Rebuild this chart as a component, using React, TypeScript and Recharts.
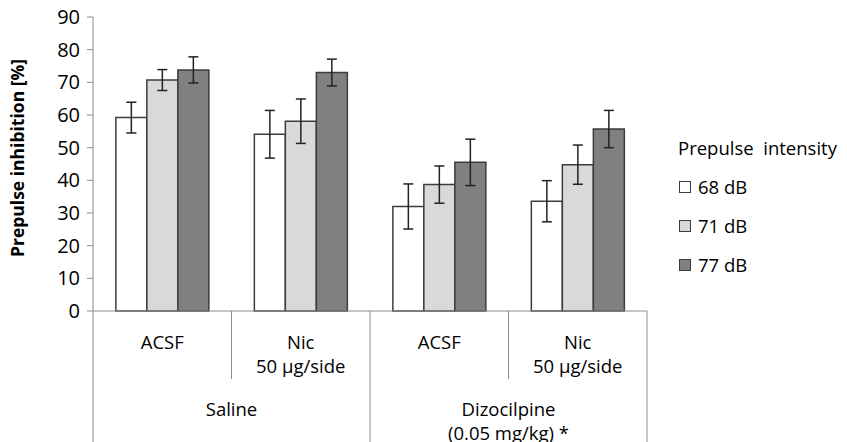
import React from "react";
import { BarChart, Bar, XAxis, YAxis, ErrorBar, Legend, Label } from "recharts";

// categories (bottom axis, two levels)
const treatments = ["ACSF", "Nic\n50 µg/side", "ACSF", "Nic\n50 µg/side"];
const groups = ["Saline", "Saline", "Dizocilpine\n(0.05 mg/kg) *", "Dizocilpine\n(0.05 mg/kg) *"];

// prepulse inhibition means [%]
const pp68 = [59.2, 54.1, 32.0, 33.6];
const pp71 = [70.7, 58.1, 38.7, 44.8];
const pp77 = [73.8, 73.0, 45.5, 55.7];

// error bars (+/-)
const err68 = [4.7, 7.3, 6.9, 6.3];
const err71 = [3.2, 6.8, 5.7, 6.0];
const err77 = [4.0, 4.1, 7.1, 5.7];

const yTicks = [0, 10, 20, 30, 40, 50, 60, 70, 80, 90];

const rows = treatments.map((t, i) => ({
  id: `${groups[i]} ${t} ${i}`,
  treatment: t,
  group: groups[i],
  v68: pp68[i],
  v71: pp71[i],
  v77: pp77[i],
  e68: err68[i],
  e71: err71[i],
  e77: err77[i],
}));

const W = 847;
const H = 442;
const MARGIN = { top: 17, right: 200, bottom: 0, left: 0 };
const Y_AXIS_W = 93;
const X_AXIS_H = 131;
const BAND = (W - MARGIN.left - MARGIN.right - Y_AXIS_W) / rows.length;

const FONT = "'Open Sans', sans-serif";
const AXIS_GRAY = "#8c8c8c";
const BAR_STROKE = "#3c3c3c";

function CategoryTick(props: any) {
  const { x, y, index } = props;
  const row = rows[index];
  if (!row) return null;
  const half = BAND / 2;
  const startsGroup = index === 0 || rows[index - 1].group !== row.group;
  const last = index === rows.length - 1;
  const tLines = row.treatment.split("\n");
  const gLines = row.group.split("\n");
  // group label sits in the middle of its categories
  let span = 1;
  while (index + span < rows.length && rows[index + span].group === row.group) span++;
  const gx = x - half + (span * BAND) / 2;

  return (
    <g>
      <line
        x1={x - half}
        x2={x - half}
        y1={y}
        y2={startsGroup ? y + X_AXIS_H : y + 68}
        stroke={AXIS_GRAY}
        strokeWidth={1}
      />
      {last && (
        <line x1={x + half} x2={x + half} y1={y} y2={y + X_AXIS_H} stroke={AXIS_GRAY} strokeWidth={1} />
      )}
      {tLines.map((l: string, k: number) => (
        <text
          key={k}
          x={x}
          y={y + 30 + k * 24.5}
          textAnchor="middle"
          dominantBaseline="central"
          fontSize={18.5}
          fontFamily={FONT}
          fill="#000"
        >
          {l}
        </text>
      ))}
      {startsGroup &&
        gLines.map((l: string, k: number) => (
          <text
            key={"g" + k}
            x={gx}
            y={y + 97 + k * 24.5}
            textAnchor="middle"
            dominantBaseline="central"
            fontSize={18.5}
            fontFamily={FONT}
            fill="#000"
          >
            {l}
          </text>
        ))}
    </g>
  );
}

function YTitle(props: any) {
  const vb = props.viewBox || { x: 0, y: MARGIN.top, width: Y_AXIS_W, height: H - MARGIN.top - X_AXIS_H };
  const cx = vb.x + 17;
  const cy = vb.y + vb.height / 2 - 6;
  return (
    <text
      x={cx}
      y={cy}
      transform={`rotate(-90, ${cx}, ${cy})`}
      textAnchor="middle"
      dominantBaseline="central"
      fontSize={17.5}
      fontWeight="bold"
      fontFamily={FONT}
      fill="#000"
    >
      Prepulse inhibition [%]
    </text>
  );
}

function PrepulseLegend(props: any) {
  const items = props.payload || [];
  return (
    <div style={{ fontFamily: FONT, fontSize: 18.5, color: "#000" }}>
      <div style={{ height: 39, lineHeight: "39px", whiteSpace: "pre" }}>Prepulse  intensity</div>
      {items.map((it: any) => (
        <div key={it.value} style={{ height: 39, display: "flex", alignItems: "center" }}>
          <span
            style={{
              display: "inline-block",
              width: 10,
              height: 10,
              marginLeft: 1,
              marginRight: 7,
              background: it.color,
              border: `1.5px solid ${BAR_STROKE}`,
            }}
          />
          <span>{it.value}</span>
        </div>
      ))}
    </div>
  );
}

export default function App() {
  return (
    <div style={{ position: "absolute", left: 0, top: 0, width: W, height: H, background: "#fff" }}>
      <BarChart
        width={W}
        height={H}
        data={rows}
        margin={MARGIN}
        barCategoryGap="16.5%"
        barGap={0}
        style={{ fontFamily: FONT }}
      >
        <XAxis
          dataKey="id"
          height={X_AXIS_H}
          interval={0}
          tick={<CategoryTick />}
          tickLine={false}
          tickSize={0}
          tickMargin={0}
          axisLine={{ stroke: AXIS_GRAY }}
        />
        <YAxis
          width={Y_AXIS_W}
          domain={[0, 90]}
          ticks={yTicks}
          interval={0}
          tickSize={6}
          tickMargin={7}
          axisLine={{ stroke: AXIS_GRAY }}
          tickLine={{ stroke: AXIS_GRAY }}
          tick={{ fill: "#000", fontSize: 20, fontFamily: FONT }}
        >
          <Label content={<YTitle />} />
        </YAxis>
        <Legend
          layout="vertical"
          align="center"
          verticalAlign="middle"
          content={<PrepulseLegend />}
          wrapperStyle={{ left: 678, top: 128, width: 170 }}
        />
        <Bar dataKey="v68" name="68 dB" fill="#ffffff" stroke={BAR_STROKE} strokeWidth={1.5} isAnimationActive={false}>
          <ErrorBar dataKey="e68" width={5} stroke="#222" strokeWidth={1.5} />
        </Bar>
        <Bar dataKey="v71" name="71 dB" fill="#d9d9d9" stroke={BAR_STROKE} strokeWidth={1.5} isAnimationActive={false}>
          <ErrorBar dataKey="e71" width={5} stroke="#222" strokeWidth={1.5} />
        </Bar>
        <Bar dataKey="v77" name="77 dB" fill="#808080" stroke={BAR_STROKE} strokeWidth={1.5} isAnimationActive={false}>
          <ErrorBar dataKey="e77" width={5} stroke="#222" strokeWidth={1.5} />
        </Bar>
      </BarChart>
    </div>
  );
}
